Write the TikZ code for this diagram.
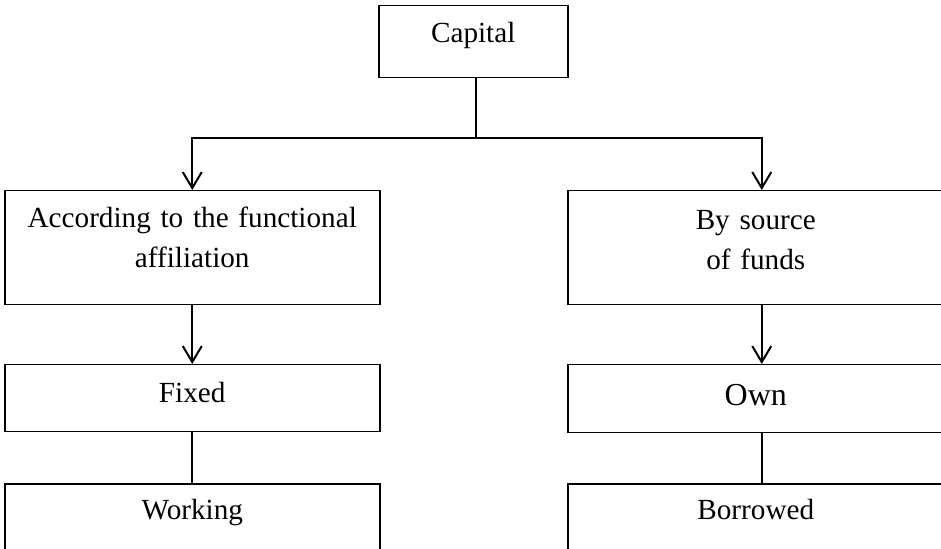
\documentclass[tikz,border=0pt]{standalone}
\usepackage{fontspec}
\setmainfont{Liberation Serif}
\usetikzlibrary{arrows.meta,positioning}

\begin{document}
\begin{tikzpicture}[x=0.5pt, y=-0.5pt,
  box/.style={
    draw, line width=0.75pt, anchor=north west,
    inner xsep=0pt, inner ysep=0pt, align=center,
    font=\fontsize{14.6}{20}\selectfont},
  arr/.style={-{Straight Barb[width=9.5pt,length=8pt,line width=1pt]}, line width=1pt},
  link/.style={line width=1pt},
]
  \useasboundingbox (0,0) rectangle (941,549);
  \clip (0,0) rectangle (941,549);

  \node[box, minimum width=94.5pt, text height=18.5pt, text depth=17.5pt] (capital) at (378,5) {Capital};
  \node[box, minimum width=187.5pt, text width=180pt, text height=18.5pt, text depth=38.5pt] (func) at (4,190) {According to the functional\\affiliation};
  \node[box, minimum width=188pt, text width=180pt, text height=19.5pt, text depth=37.5pt] (src) at (567,190) {By source\\of funds};
  \node[box, minimum width=187.5pt, text height=19pt, text depth=14.5pt] (fixed) at (4,364) {Fixed};
  \node[box, minimum width=188pt, font=\fontsize{16}{20}\selectfont, text height=20.5pt, text depth=13.5pt] (own) at (567,364) {Own};
  \node[box, minimum width=187.5pt, text height=17.75pt, text depth=25pt] (working) at (4,483) {Working};
  \node[box, minimum width=188pt, text height=18pt, text depth=25pt] (borrowed) at (567,483) {Borrowed};

  \draw[link] ([xshift=1.25pt]capital.south) -- ++(0,60) coordinate (hub);
  \draw[arr] (hub) -| (func.north);
  \draw[arr] (hub) -| ([xshift=3pt]src.north);
  \draw[arr] (func.south) -- (fixed.north);
  \draw[arr] ([xshift=3pt]src.south) -- ([xshift=3pt]own.north);

  \foreach \up/\dn/\dx in {fixed/working/0pt,own/borrowed/3pt}{
    \draw[link] ([xshift=\dx]\up.south) -- ([xshift=\dx]\dn.north);
  }
\end{tikzpicture}
\end{document}
